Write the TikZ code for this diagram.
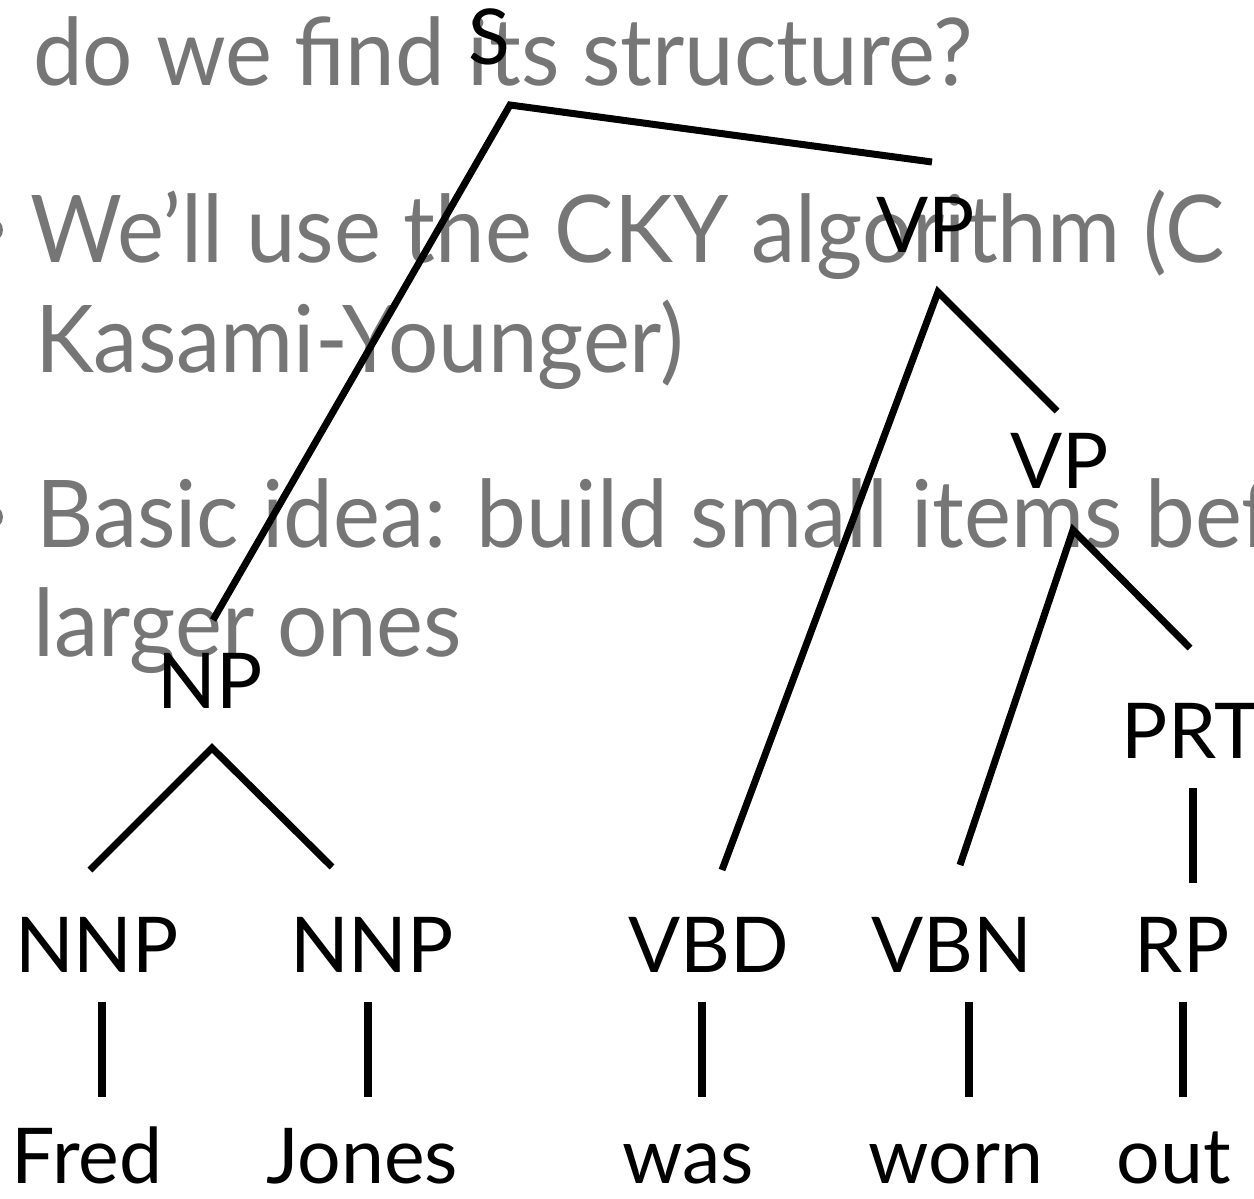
\documentclass[tikz,border=0pt]{standalone}
\usepackage{fontspec}
\setmainfont{Lato}
\newfontfamily\slidefont[FakeStretch=0.95]{Lato}
\definecolor{slidegray}{HTML}{767676}
\tikzset{
  slidetext/.style={anchor=base west, inner sep=0pt, text=slidegray,
    font=\slidefont\fontsize{93.5}{100}\selectfont},
  lbl/.style={anchor=base, inner sep=0pt, font=\fontsize{77}{80}\selectfont},
  branch/.style={line width=7pt, line cap=butt},
  bar/.style={line width=8pt, line cap=butt}
}
\begin{document}
\begin{tikzpicture}[x=1pt,y=-1pt]
\useasboundingbox (0,0) rectangle (1254,1199);
\clip (0,0) rectangle (1254,1199);

% slide text in the background
\fill[slidegray] (-9,230) circle (12pt);
\fill[slidegray] (-9,517) circle (12pt);
\node[slidetext] (t1) at (33,85)  {do we find its structure?};
\node[slidetext] (t2) at (30,262) {We’ll use the CKY algorithm (C};
\node[slidetext] (t3) at (35,372) {Kasami-Younger)};
\node[slidetext] (t4) at (36,547) {Basic idea: build small items before};
\node[slidetext] (t5) at (33,656) {larger ones};

% category labels
\node[lbl] (S)    at (489,65)   {S};
\node[lbl] (VP1)  at (926,252)  {VP};
\node[lbl] (VP2)  at (1060,488) {VP};
\node[lbl] (PRT)  at (1191,758) {PRT};
\node[lbl] (NP)   at (210,708)  {NP};
\node[lbl] (NNP1) at (97,972)   {NNP};
\node[lbl] (NNP2) at (372,972)  {NNP};
\node[lbl] (VBD)  at (709,972)  {VBD};
\node[lbl] (VBN)  at (952,972)  {VBN};
\node[lbl] (RP)   at (1182,972) {RP};

% words
\node[lbl] (w1) at (87,1183)   {Fred};
\node[lbl] (w2) at (362,1183)  {Jones};
\node[lbl] (w3) at (688,1183)  {was};
\node[lbl] (w4) at (956,1183)  {worn};
\node[lbl] (w5) at (1174,1183) {out};

% branch end points
\coordinate (S-j)    at (510,105);
\coordinate (VP1-in) at (932,162);
\coordinate (NP-in)  at (213,620);
\coordinate (VP1-j)  at (938,292);
\coordinate (VBD-in) at (722,870);
\coordinate (VP2-in) at (1057,411);
\coordinate (VP2-j)  at (1073,530);
\coordinate (VBN-in) at (960,865);
\coordinate (PRT-in) at (1190,648);
\coordinate (NP-j)   at (212,748);
\coordinate (N1-in)  at (90,870);
\coordinate (N2-in)  at (332,867);
\coordinate (PRT-a)  at (1193,788);
\coordinate (RP-in)  at (1193,883);

\draw[branch] (VP1-in) -- (S-j) -- (NP-in);
\draw[branch] (VBD-in) -- (VP1-j) -- (VP2-in);
\draw[branch] (VBN-in) -- (VP2-j) -- (PRT-in);
\draw[branch] (N1-in) -- (NP-j) -- (N2-in);
\draw[bar] (PRT-a) -- (RP-in);

% pre-terminal to word bars
\foreach \x/\n in {102/a,368/b,702/c,969/d,1183/e}{
  \coordinate (top-\n) at (\x,1002);
  \coordinate (bot-\n) at (\x,1097);
  \draw[bar] (top-\n) -- (bot-\n);
}
\end{tikzpicture}
\end{document}
